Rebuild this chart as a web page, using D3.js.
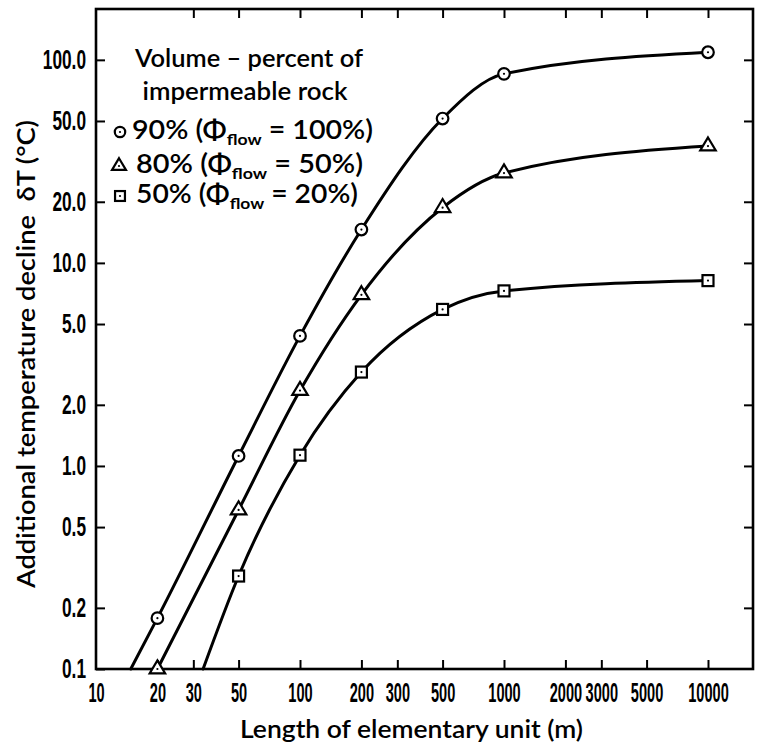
<!DOCTYPE html>
<html>
<head>
<meta charset="utf-8">
<script src="https://cdn.jsdelivr.net/npm/d3@7"></script>
<style>
  html, body { margin: 0; padding: 0; background: #fff; }
  svg { display: block; }
</style>
</head>
<body>
<svg id="chart" width="763" height="749"></svg>
<script>
// ---------------- DATA ----------------
const xTickValues = [10, 20, 30, 50, 100, 200, 300, 500, 1000, 2000, 3000, 5000, 10000];
const xTopTickValues = [30, 50, 100, 200, 300, 500, 1000, 2000, 3000, 5000, 10000];
const yTickValues = [0.1, 0.2, 0.5, 1, 2, 5, 10, 20, 50, 100];

const len90 = [20, 50, 100, 200, 500, 1000, 10000];
const val90 = [0.178, 1.12, 4.37, 14.6, 51.4, 85.3, 109];
const start90 = [14.8, 0.1];   // where the curve leaves the bottom axis

const len80 = [20, 50, 100, 200, 500, 1000, 10000];
const val80 = [0.1, 0.607, 2.35, 6.96, 18.7, 27.7, 37.6];

const len50 = [50, 100, 200, 500, 1000, 10000];
const val50 = [0.287, 1.13, 2.9, 5.9, 7.28, 8.18];
const start50 = [33.5, 0.1];

const legendTitle = ["Volume \u2013 percent of", "impermeable rock"];
const legendRows = [
  { shape: "circle",   pct: "90% (\u03A6", flow: "flow", rest: " = 100%)" },
  { shape: "triangle", pct: "80% (\u03A6", flow: "flow", rest: " = 50%)" },
  { shape: "square",   pct: "50% (\u03A6", flow: "flow", rest: " = 20%)" }
];
const xTitle = "Length of elementary unit (m)";
const yTitle = "Additional temperature decline\u00A0\u00A0\u03B4T (\u00B0C)";

// ---------------- LAYOUT ----------------
const L = 96, R = 753, T = 9, B = 669;
const svg = d3.select("#chart");
const x = d3.scaleLog().domain([10, 16620]).range([L, R]);
const y = d3.scaleLog().domain([0.1, 178]).range([B, T]);

const tickFont = "'Liberation Sans', Arial, sans-serif";
const titleFont = "Lato, 'Open Sans', sans-serif";

// condense tick labels horizontally with a transform (keeps anchors in place)
function condense(sel, f) {
  sel.each(function () {
    const t = d3.select(this);
    const x0 = +t.attr("x") || 0;
    t.attr("x", x0 / f).attr("transform", `scale(${f},1)`);
  });
}

// axes
const gx = svg.append("g").attr("transform", `translate(0,${B})`)
  .call(d3.axisBottom(x).tickValues(xTickValues).tickSizeInner(-9).tickSizeOuter(0)
    .tickPadding(14).tickFormat(d3.format("d")));
const gxt = svg.append("g").attr("transform", `translate(0,${T})`)
  .call(d3.axisTop(x).tickValues(xTopTickValues).tickSizeInner(-9).tickSizeOuter(0).tickFormat(""));
const gy = svg.append("g").attr("transform", `translate(${L},0)`)
  .call(d3.axisLeft(y).tickValues(yTickValues).tickSizeInner(-9).tickSizeOuter(0)
    .tickPadding(10).tickFormat(d3.format(".1f")));
const gyr = svg.append("g").attr("transform", `translate(${R},0)`)
  .call(d3.axisRight(y).tickValues(yTickValues.filter(v => v > 0.1)).tickSizeInner(-9).tickSizeOuter(0).tickFormat(""));

[gx, gxt, gy, gyr].forEach(g => {
  g.select(".domain").remove();
  g.selectAll(".tick line").attr("stroke", "#000").attr("stroke-width", 2);
  g.selectAll(".tick text").attr("fill", "#000")
    .style("font-family", tickFont).style("font-size", "27px").style("font-weight", "700");
});
gx.select(".tick line").remove(); // no tick at the corner (10)
condense(gx.selectAll(".tick text"), 0.54);
condense(gy.selectAll(".tick text"), 0.64);

// frame
svg.append("rect").attr("x", L).attr("y", T).attr("width", R - L).attr("height", B - T)
  .attr("fill", "none").attr("stroke", "#000").attr("stroke-width", 2.6);

// curves
const line = d3.line().x(d => x(d[0])).y(d => y(d[1])).curve(d3.curveMonotoneX);
const pts90 = [start90].concat(len90.map((l, i) => [l, val90[i]]));
const pts80 = len80.map((l, i) => [l, val80[i]]);
const pts50 = [start50].concat(len50.map((l, i) => [l, val50[i]]));
[pts90, pts80, pts50].forEach(p => {
  svg.append("path").attr("d", line(p)).attr("fill", "none")
    .attr("stroke", "#000").attr("stroke-width", 3).attr("stroke-linecap", "round");
});

// markers
function marker(g, shape, cx, cy, s) {
  s = s || 1;
  if (shape === "circle") {
    g.append("circle").attr("cx", cx).attr("cy", cy).attr("r", 5.8 * s)
      .attr("fill", "#fff").attr("stroke", "#000").attr("stroke-width", 2.2);
  } else if (shape === "triangle") {
    const h = 13 * s, w = 15.5 * s;
    const top = cy - h * 2 / 3, bot = cy + h / 3;
    g.append("path").attr("d", `M${cx},${top}L${cx + w / 2},${bot}L${cx - w / 2},${bot}Z`)
      .attr("fill", "#fff").attr("stroke", "#000").attr("stroke-width", 2.2).attr("stroke-linejoin", "miter");
  } else {
    const a = 11 * s;
    g.append("rect").attr("x", cx - a / 2).attr("y", cy - a / 2).attr("width", a).attr("height", a)
      .attr("fill", "#fff").attr("stroke", "#000").attr("stroke-width", 2.2);
  }
  g.append("circle").attr("cx", cx).attr("cy", cy).attr("r", 1.1).attr("fill", "#000");
}
const gm = svg.append("g");
len90.forEach((l, i) => marker(gm, "circle", x(l), y(val90[i])));
len80.forEach((l, i) => marker(gm, "triangle", x(l), y(val80[i])));
len50.forEach((l, i) => marker(gm, "square", x(l), y(val50[i])));

// legend
const lg = svg.append("g").style("font-family", titleFont).attr("fill", "#000");
lg.append("text").attr("x", 249).attr("y", 67).attr("text-anchor", "middle")
  .style("font-size", "25px").style("font-weight", "600")
  .attr("textLength", 228).attr("lengthAdjust", "spacingAndGlyphs").text(legendTitle[0]);
lg.append("text").attr("x", 245).attr("y", 100).attr("text-anchor", "middle")
  .style("font-size", "25px").style("font-weight", "600")
  .attr("textLength", 205).attr("lengthAdjust", "spacingAndGlyphs").text(legendTitle[1]);

const rowY = [139, 173, 203];
const rowX = [132, 136, 136];
const rowW = [241, 227, 222];
const markX = [120, 119, 120];
legendRows.forEach((r, i) => {
  marker(lg, r.shape, markX[i], rowY[i] - 7, 0.9);
  const t = lg.append("text").attr("x", rowX[i]).attr("y", rowY[i])
    .style("font-size", "26px").style("font-weight", "600")
    .attr("textLength", rowW[i]).attr("lengthAdjust", "spacingAndGlyphs");
  t.append("tspan").text(r.pct);
  t.append("tspan").attr("dy", 6).style("font-size", "16px").style("font-weight", "700").text(r.flow);
  t.append("tspan").attr("dy", -6).text(r.rest);
});

// axis titles
svg.append("text").attr("x", 240).attr("y", 738)
  .style("font-family", titleFont).style("font-size", "25px").style("font-weight", "600")
  .attr("textLength", 343).attr("lengthAdjust", "spacingAndGlyphs").text(xTitle);
svg.append("text").attr("transform", "translate(35,354) rotate(-90)").attr("text-anchor", "middle")
  .style("font-family", titleFont).style("font-size", "25px").style("font-weight", "600")
  .attr("textLength", 468).attr("lengthAdjust", "spacingAndGlyphs").text(yTitle);
</script>
</body>
</html>
